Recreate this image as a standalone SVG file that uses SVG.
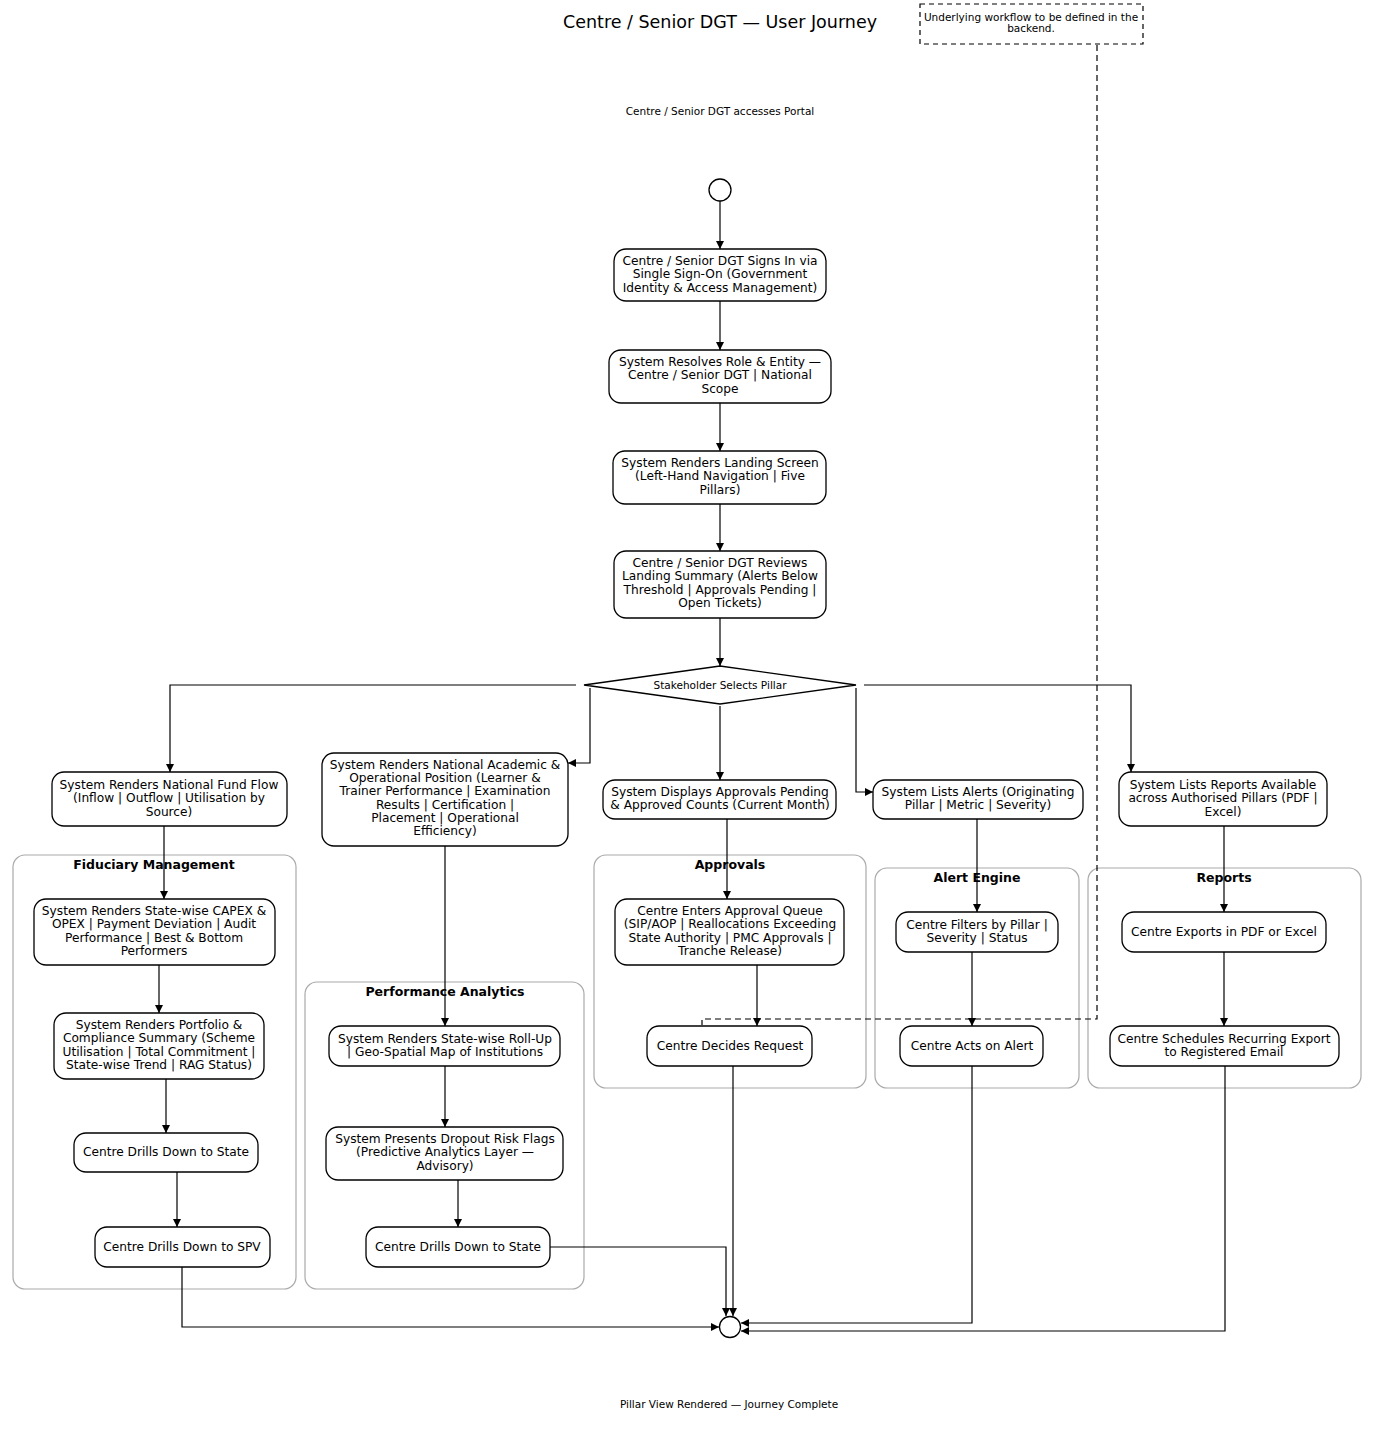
<svg xmlns="http://www.w3.org/2000/svg" width="1374" height="1429" viewBox="0 0 1374 1429">
<style>
text{font-family:"DejaVu Sans",sans-serif;fill:#000}
.n rect{fill:#fff;stroke:#000;stroke-width:1.3}
.n text{font-size:12.2px;text-anchor:middle}
.c rect{fill:none;stroke:#aaa;stroke-width:1.2}
.c text{font-size:12.5px;font-weight:bold;text-anchor:middle}
#edges path{fill:none;stroke:#000;stroke-width:1.2;marker-end:url(#a)}
.lbl{font-size:10.5px;text-anchor:middle}
</style>
<defs><marker id="a" viewBox="0 0 10 10" refX="10" refY="5" markerWidth="8" markerHeight="8" orient="auto" markerUnits="userSpaceOnUse"><path d="M0,0L10,5L0,10z" fill="#000"/></marker></defs>
<rect width="1374" height="1429" fill="#fff"/>
<text x="720" y="28" font-size="17.5" text-anchor="middle">Centre / Senior DGT — User Journey</text>
<g id="note"><rect x="920" y="4" width="223" height="40" fill="#fff" stroke="#000" stroke-dasharray="5,4" stroke-width="1.2"/><text class="lbl" x="1031" y="21" font-size="10">Underlying workflow to be defined in the</text><text class="lbl" x="1031" y="32" font-size="10">backend.</text></g>
<text class="lbl" x="720" y="115">Centre / Senior DGT accesses Portal</text>
<text class="lbl" x="729" y="1408">Pillar View Rendered — Journey Complete</text>

<g class="c" id="cl-fid"><rect x="13" y="855" width="283" height="434" rx="12"/><text x="154" y="869">Fiduciary Management</text></g>
<g class="c" id="cl-perf"><rect x="305" y="982" width="279" height="307" rx="12"/><text x="445" y="996">Performance Analytics</text></g>
<g class="c" id="cl-appr"><rect x="594" y="855" width="272" height="233" rx="12"/><text x="730" y="869">Approvals</text></g>
<g class="c" id="cl-alert"><rect x="875" y="868" width="204" height="220" rx="12"/><text x="977" y="882">Alert Engine</text></g>
<g class="c" id="cl-rep"><rect x="1088" y="868" width="273" height="220" rx="12"/><text x="1224" y="882">Reports</text></g>

<g id="edges">
<path d="M720,201V249"/><path d="M720,301V350"/><path d="M720,403V451"/><path d="M720,504V551"/><path d="M720,618V666"/>
<path d="M576,685H170V772"/><path d="M590,688V763H568"/><path d="M720,706V780"/><path d="M856,688V792H873"/><path d="M864,685H1131V772"/>
<path d="M164,826V899"/><path d="M159,965V1013"/><path d="M166,1079V1133"/><path d="M177,1172V1227"/><path d="M182,1267V1327H719"/>
<path d="M445,846V1026"/><path d="M445,1066V1127"/><path d="M458,1180V1227"/><path d="M550,1247H726V1316"/>
<path d="M727,819V899"/><path d="M757,965V1026"/><path d="M733,1066V1316"/>
<path d="M977,819V912"/><path d="M972,952V1026"/><path d="M972,1066V1323H741"/>
<path d="M1224,826V912"/><path d="M1224,952V1026"/><path d="M1225,1066V1331H741"/>
<path d="M1097,45V1019H702V1025" style="marker-end:none;stroke-dasharray:6,4"/>
</g>

<g id="start"><circle cx="720" cy="190" r="11" fill="#fff" stroke="#000" stroke-width="1.3"/></g>
<g id="end"><circle cx="730" cy="1327" r="10.5" fill="#fff" stroke="#000" stroke-width="1.3"/></g>
<g id="decision"><polygon points="584,685 720,666 856,685 720,704" fill="#fff" stroke="#000" stroke-width="1.3"/><text class="lbl" x="720" y="689">Stakeholder Selects Pillar</text></g>

<g class="n" id="n1"><rect x="614" y="249" width="212" height="52" rx="12"/><text x="720" y="265">Centre / Senior DGT Signs In via</text><text x="720" y="278">Single Sign-On (Government</text><text x="720" y="292">Identity &amp; Access Management)</text></g>
<g class="n" id="n2"><rect x="609" y="350" width="222" height="53" rx="12"/><text x="720" y="366">System Resolves Role &amp; Entity —</text><text x="720" y="379">Centre / Senior DGT | National</text><text x="720" y="393">Scope</text></g>
<g class="n" id="n3"><rect x="613" y="451" width="213" height="53" rx="12"/><text x="720" y="467">System Renders Landing Screen</text><text x="720" y="480">(Left-Hand Navigation | Five</text><text x="720" y="494">Pillars)</text></g>
<g class="n" id="n4"><rect x="614" y="551" width="212" height="67" rx="12"/><text x="720" y="567">Centre / Senior DGT Reviews</text><text x="720" y="580">Landing Summary (Alerts Below</text><text x="720" y="594">Threshold | Approvals Pending |</text><text x="720" y="607">Open Tickets)</text></g>

<g class="n" id="fund"><rect x="52" y="772" width="235" height="54" rx="12"/><text x="169" y="789">System Renders National Fund Flow</text><text x="169" y="802">(Inflow | Outflow | Utilisation by</text><text x="169" y="816">Source)</text></g>
<g class="n" id="acad"><rect x="322" y="753" width="246" height="93" rx="12"/><text x="445" y="769">System Renders National Academic &amp;</text><text x="445" y="782">Operational Position (Learner &amp;</text><text x="445" y="795">Trainer Performance | Examination</text><text x="445" y="809">Results | Certification |</text><text x="445" y="822">Placement | Operational</text><text x="445" y="835">Efficiency)</text></g>
<g class="n" id="apprc"><rect x="603" y="780" width="233" height="39" rx="12"/><text x="720" y="796">System Displays Approvals Pending</text><text x="720" y="809">&amp; Approved Counts (Current Month)</text></g>
<g class="n" id="alerts"><rect x="873" y="780" width="210" height="39" rx="12"/><text x="978" y="796">System Lists Alerts (Originating</text><text x="978" y="809">Pillar | Metric | Severity)</text></g>
<g class="n" id="reps"><rect x="1119" y="772" width="208" height="54" rx="12"/><text x="1223" y="789">System Lists Reports Available</text><text x="1223" y="802">across Authorised Pillars (PDF |</text><text x="1223" y="816">Excel)</text></g>

<g class="n" id="capex"><rect x="34" y="899" width="241" height="66" rx="12"/><text x="154" y="915">System Renders State-wise CAPEX &amp;</text><text x="154" y="928">OPEX | Payment Deviation | Audit</text><text x="154" y="942">Performance | Best &amp; Bottom</text><text x="154" y="955">Performers</text></g>
<g class="n" id="port"><rect x="54" y="1013" width="210" height="66" rx="12"/><text x="159" y="1029">System Renders Portfolio &amp;</text><text x="159" y="1042">Compliance Summary (Scheme</text><text x="159" y="1056">Utilisation | Total Commitment |</text><text x="159" y="1069">State-wise Trend | RAG Status)</text></g>
<g class="n" id="ds1"><rect x="74" y="1133" width="184" height="39" rx="12"/><text x="166" y="1156">Centre Drills Down to State</text></g>
<g class="n" id="spv"><rect x="95" y="1227" width="175" height="40" rx="12"/><text x="182" y="1251">Centre Drills Down to SPV</text></g>
<g class="n" id="roll"><rect x="329" y="1026" width="231" height="40" rx="12"/><text x="445" y="1043">System Renders State-wise Roll-Up</text><text x="445" y="1056">| Geo-Spatial Map of Institutions</text></g>
<g class="n" id="drop"><rect x="326" y="1127" width="237" height="53" rx="12"/><text x="445" y="1143">System Presents Dropout Risk Flags</text><text x="445" y="1156">(Predictive Analytics Layer —</text><text x="445" y="1170">Advisory)</text></g>
<g class="n" id="ds2"><rect x="366" y="1227" width="184" height="40" rx="12"/><text x="458" y="1251">Centre Drills Down to State</text></g>
<g class="n" id="queue"><rect x="615" y="899" width="229" height="66" rx="12"/><text x="730" y="915">Centre Enters Approval Queue</text><text x="730" y="928">(SIP/AOP | Reallocations Exceeding</text><text x="730" y="942">State Authority | PMC Approvals |</text><text x="730" y="955">Tranche Release)</text></g>
<g class="n" id="decide"><rect x="647" y="1026" width="165" height="40" rx="12"/><text x="730" y="1050">Centre Decides Request</text></g>
<g class="n" id="filt"><rect x="896" y="912" width="162" height="40" rx="12"/><text x="977" y="929">Centre Filters by Pillar |</text><text x="977" y="942">Severity | Status</text></g>
<g class="n" id="acts"><rect x="900" y="1026" width="143" height="40" rx="12"/><text x="972" y="1050">Centre Acts on Alert</text></g>
<g class="n" id="exp"><rect x="1122" y="912" width="204" height="40" rx="12"/><text x="1224" y="936">Centre Exports in PDF or Excel</text></g>
<g class="n" id="sched"><rect x="1110" y="1026" width="229" height="40" rx="12"/><text x="1224" y="1043">Centre Schedules Recurring Export</text><text x="1224" y="1056">to Registered Email</text></g>
</svg>
